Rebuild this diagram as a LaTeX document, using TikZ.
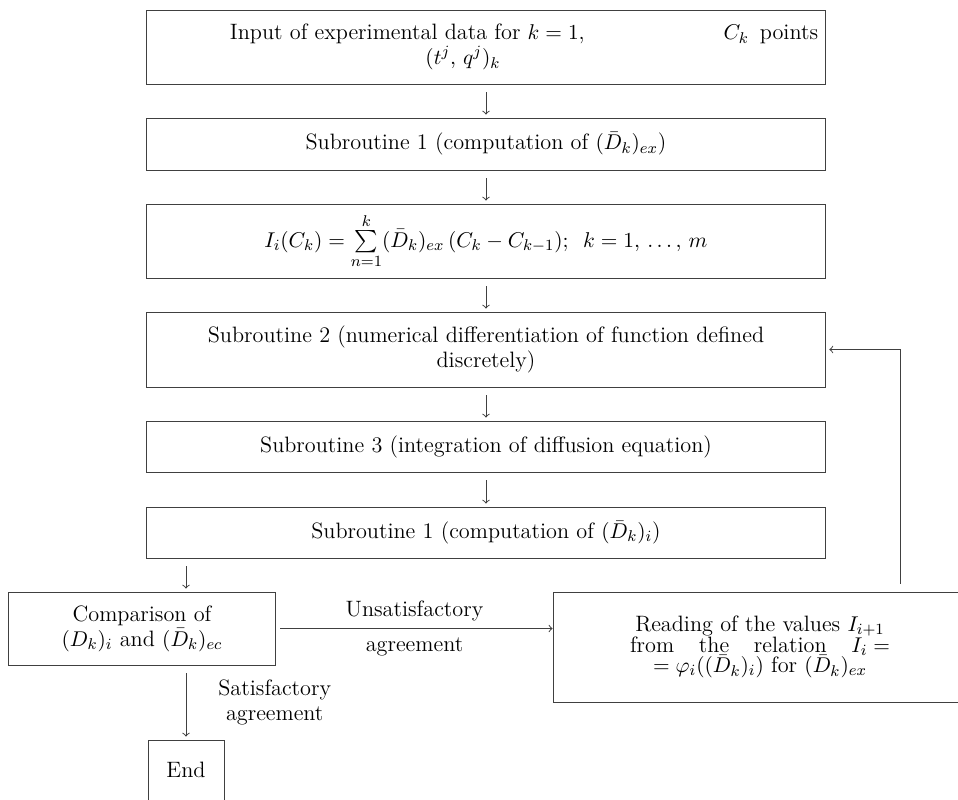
\documentclass[tikz,border=0pt]{standalone}
\usepackage{amsmath, amsfonts}
\begin{document}
\begin{tikzpicture}[x=0.018cm, y=-0.018cm,
    every node/.style={font=\fontsize{11.4}{12.8}\selectfont},
    box/.style={draw=black!75, line width=0.5pt, rectangle, inner sep=0pt,
      minimum width=12.24cm, align=center},
    flow/.style={->, draw=black!75, line width=0.5pt, shorten <=4pt, shorten >=1.5pt}]
  \useasboundingbox (0,0) rectangle (958,799);
  % main column
  \node[box, minimum height=1.332cm] (input) at (486,47)
    {\hspace*{1.37cm}Input of experimental data for $k=1$,\hspace{2.5cm}$C_k$\, points\\
     $(t^j,\,q^j)_k$\hspace*{0.83cm}};
  \node[box, minimum height=0.936cm] (sub1ex) at (486,144)
    {Subroutine 1 (computation of $(\bar{D}_k)_{ex}$)};
  \node[box, minimum height=1.332cm] (integral) at (486,241)
    {$I_i(C_k) = \sum\limits_{n=1}^{k} (\bar{D}_k)_{ex}\,(C_k - C_{k-1});\enspace k=1,\,\ldots,\,m$};
  \node[box, minimum height=1.35cm] (sub2) at (486,349.5)
    {Subroutine 2 (numerical differentiation of function defined\\discretely)};
  \node[box, minimum height=0.918cm] (sub3) at (486,446.5)
    {Subroutine 3 (integration of diffusion equation)};
  \node[box, minimum height=0.918cm] (sub1i) at (486,532.5)
    {Subroutine 1 (computation of $(\bar{D}_k)_i$)};
  % lower part
  \node[box, minimum width=4.824cm, minimum height=1.314cm] (cmp) at (142,628.5)
    {Comparison of\\$(D_k)_i$ and $(\bar{D}_k)_{ec}$};
  \node[box, minimum width=7.452cm, minimum height=1.98cm] (rd) at (760,647)
    {Reading of the values $I_{i+1}$\\[-2.3pt]
     \makebox[4.68cm][s]{from the relation \mbox{$I_i =$}}\\[-2.3pt]
     $=\varphi_i((\bar{D}_k)_i)$ for $(\bar{D}_k)_{ex}$};
  \node[box, minimum width=1.368cm, minimum height=1.08cm] (end) at (186,770) {End};
  \coordinate (fb) at (900,344);
  % connectors
  \draw[flow] (input) -- (sub1ex);
  \draw[flow] (sub1ex) -- (integral);
  \draw[flow] (integral) -- (sub2);
  \draw[flow] (sub2) -- (sub3);
  \draw[flow] (sub3) -- (sub1i);
  \draw[flow] (sub1i.south -| end.north) -- (cmp.north -| end.north);
  \draw[flow] (cmp.south -| end.north) -- node[right, align=center, xshift=13pt]
    {Satisfactory\\agreement} (end.north);
  \draw[flow, shorten <=2pt, shorten >=0pt] (cmp.east) -- node[above=0pt]{Unsatisfactory}
    node[below=1pt]{agreement} (cmp.east -| rd.west);
  \draw[flow] (rd.north -| fb) |- (sub2.east);
\end{tikzpicture}
\end{document}
